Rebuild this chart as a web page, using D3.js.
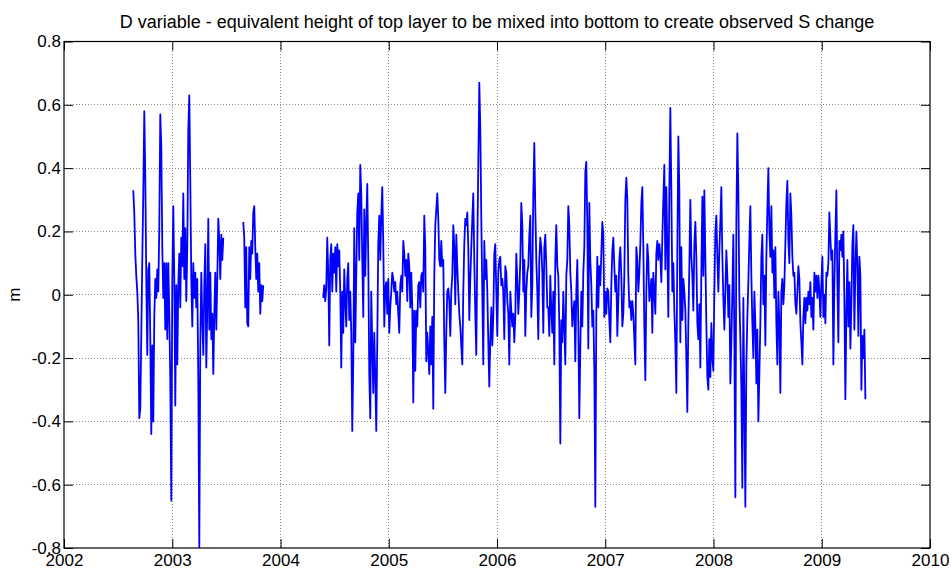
<!DOCTYPE html>
<html>
<head>
<meta charset="utf-8">
<script src="https://cdn.jsdelivr.net/npm/d3@7"></script>
<style>
  body { margin: 0; background: #fff; }
  svg text { font-family: "Liberation Sans", Arial, sans-serif; fill: #000; }
</style>
</head>
<body>
<div class="chart"></div>
<script>
// axis ticks
let xTicks = [2002, 2003, 2004, 2005, 2006, 2007, 2008, 2009, 2010]
let yTicks = [-0.8, -0.6, -0.4, -0.2, 0, 0.2, 0.4, 0.6, 0.8]
let yTickLabels = ["-0.8", "-0.6", "-0.4", "-0.2", "0", "0.2", "0.4", "0.6", "0.8"]

// three runs of samples, each with its start (decimal year), ~3.4 days apart
let segStarts = [2002.640, 2003.656, 2004.395]
let sampleStep = 0.00924

let seg1Values = [
    0.33, 0.26, 0.13, 0.06, 0.01, -0.08, -0.39, -0.36, -0.13, 0.11,
    0.32, 0.58, 0.38, 0.05, -0.19, 0.08, 0.10, -0.14, -0.44, -0.16,
    -0.40, -0.07, 0.05, -0.01, 0.08, 0.01, 0.21, 0.57, 0.47, 0.15,
    -0.01, 0.10, -0.11, 0.10, -0.14, 0.10, -0.06, -0.27, -0.65, 0.05,
    0.28, 0.05, -0.35, 0.03, -0.22, 0.03, 0.13, -0.04, 0.18, 0.09,
    0.32, 0.05, 0.21, -0.02, 0.15, 0.52, 0.63, 0.36, 0.05, -0.10,
    0.10, -0.01, 0.07, -0.04, 0.05, -0.27, -0.80, -0.16, 0.07, -0.08,
    -0.19, 0.03, 0.16, -0.23, -0.04, 0.24, -0.11, 0.07, -0.14, -0.06,
    -0.25, -0.06, 0.07, -0.11, 0.05, 0.24, 0.17, 0.05, 0.19, 0.11,
    0.18
]

let seg2Values = [
    0.23, 0.18, -0.04, 0.15, -0.09, -0.10, 0.15, 0.05, 0.17, 0.13,
    0.26, 0.28, 0.15, 0.05, 0.13, 0.01, 0.10, -0.06, 0.03, -0.02,
    0.03
]

let seg3Values = [
    // 2004.4 - 2005.9
    -0.01, 0.03, -0.02, 0.02, 0.18, 0.07, -0.16, 0.11, 0.16, 0.01,
    0.13, 0.07, 0.15, 0.01, 0.16, 0.09, 0.14, 0.01, -0.23, 0.01,
    -0.12, 0.08, -0.02, -0.10, 0.05, 0.10, -0.08, 0.01, -0.12, -0.43,
    -0.21, 0.21, -0.15, 0.06, 0.26, 0.32, 0.11, 0.41, 0.32, 0.11,
    -0.07, 0.27, 0.06, 0.23, 0.35, 0.11, -0.25, -0.39, 0.01, -0.16,
    -0.31, -0.12, -0.26, -0.43, -0.15, 0.16, 0.25, 0.11, 0.25, 0.34,
    0.16, -0.10, 0.02, 0.04, -0.06, 0.05, -0.12, -0.04, 0.01, 0.07,
    0.05, 0.01, 0.04, -0.03, 0.01, -0.06, -0.12, 0.03, 0.06, 0.01,
    0.17, 0.13, 0.06, 0.11, -0.02, 0.13, 0.09, -0.04, 0.07, -0.04,
    -0.34, -0.05, -0.24, -0.05, -0.10, 0.03, 0.04, -0.04, 0.06, 0.07,
    0.01, 0.25, 0.15, -0.21, -0.12, -0.18, -0.25, -0.10, -0.22, -0.07,
    -0.36, 0.06, 0.22, 0.27, 0.32, 0.24, 0.11, 0.09, 0.17, 0.09,
    0.11, -0.15, -0.31, -0.12, 0.01, 0.02, -0.02, -0.13, 0.01, 0.06,
    0.22, 0.15, -0.03, 0.19, 0.09, 0.01, -0.06, -0.10, -0.16, -0.22,
    0.01, 0.16, 0.24, 0.22, 0.26, 0.15, -0.08, 0.05, 0.15, 0.24,
    0.32, 0.11, -0.06, -0.19, 0.15, 0.41, 0.67, 0.53, 0.24, 0.01,
    -0.22, 0.17, 0.05, 0.11, 0.01, -0.15, -0.29,
    // 2006 - 2007.5
    -0.14, -0.04, -0.16, -0.07, 0.13, 0.16, 0.01, -0.13, 0.07, 0.11,
    0.12, 0.03, 0.05, 0.01, -0.14, 0.09, 0.07, -0.02, -0.06, -0.22,
    0.01, -0.05, -0.10, -0.06, -0.15, -0.07, 0.13, 0.05, -0.06, 0.01,
    0.11, 0.29, 0.22, 0.01, 0.11, -0.13, 0.01, 0.07, 0.09, 0.19,
    0.25, -0.07, 0.03, 0.32, 0.48, 0.27, 0.11, 0.01, -0.14, 0.11,
    0.18, 0.15, 0.07, -0.12, 0.15, 0.19, 0.09, -0.04, -0.04, -0.13,
    0.06, -0.05, -0.12, 0.01, -0.22, 0.11, 0.22, 0.09, 0.06, -0.10,
    -0.47, -0.08, -0.15, 0.01, -0.10, -0.22, 0.06, 0.11, 0.28, 0.22,
    0.07, 0.01, -0.10, -0.05, -0.02, -0.21, 0.01, 0.11, -0.10, -0.39,
    -0.17, 0.01, -0.10, 0.07, 0.15, 0.39, 0.42, 0.22, -0.17, 0.29,
    0.11, 0.03, -0.10, -0.05, -0.24, -0.67, -0.06, 0.12, -0.04, 0.09,
    0.03, 0.13, 0.23, 0.19, -0.07, 0.01, -0.06, 0.02, 0.01, -0.08,
    -0.15, 0.03, 0.14, 0.18, 0.09, 0.01, 0.06, -0.13, -0.02, 0.11,
    0.15, 0.06, -0.10, -0.06, 0.06, 0.30, 0.37, 0.30, 0.06, -0.04,
    -0.02, -0.08, -0.02, -0.06, -0.14, -0.22, 0.15, 0.11, 0.01, 0.07,
    0.16, 0.29, 0.34, 0.15, -0.10, -0.27, 0.01, 0.16, 0.11, -0.02,
    0.01, 0.05, -0.12, 0.07, 0.01, -0.06, 0.13, 0.17, 0.11, 0.16,
    // 2007.5 - 2009
    0.12, 0.04, 0.18, 0.30, 0.41, 0.08, 0.34, 0.15, -0.07, 0.33,
    0.59, 0.33, 0.01, 0.10, -0.05, -0.15, -0.31, 0.14, 0.50, 0.33,
    -0.15, 0.15, -0.08, 0.05, 0.01, -0.05, -0.20, -0.37, -0.09, 0.09,
    0.30, 0.12, 0.06, -0.05, 0.16, 0.23, 0.12, -0.09, -0.14, -0.03,
    -0.23, 0.07, 0.31, 0.06, 0.33, 0.12, -0.09, -0.26, -0.30, -0.14,
    -0.26, -0.09, -0.20, -0.24, 0.01, 0.20, 0.25, 0.12, 0.01, 0.14,
    0.23, 0.34, 0.12, -0.01, -0.11, 0.01, 0.14, 0.06, -0.07, 0.03,
    -0.28, -0.15, 0.01, 0.19, -0.14, -0.64, 0.23, 0.51, 0.33, -0.01,
    -0.14, -0.30, -0.61, -0.01, -0.35, -0.67, -0.22, -0.07, 0.04, 0.17,
    0.28, 0.06, -0.09, -0.20, 0.01, -0.09, -0.28, -0.11, -0.40, -0.25,
    -0.09, 0.12, 0.19, -0.03, 0.06, -0.16, 0.12, 0.27, 0.40, 0.20,
    0.12, 0.28, 0.07, 0.14, -0.01, 0.15, -0.09, -0.22, 0.01, -0.09,
    -0.31, 0.01, 0.05, -0.03, 0.03, 0.16, 0.29, 0.36, 0.17, 0.10,
    0.32, 0.25, 0.12, 0.06, 0.07, -0.03, -0.06, 0.01, 0.09, 0.05,
    -0.09, -0.15, -0.22, -0.07, -0.01, -0.09, -0.01, -0.05, 0.01, -0.03,
    0.04, -0.07, -0.01, -0.11, 0.07, 0.01, 0.06, -0.01, 0.06, 0.01,
    // 2009 - 2009.4
    -0.07, 0.04, 0.12, -0.07, 0.00, -0.09, 0.07, 0.06, 0.10, 0.26,
    0.18, 0.11, 0.14, -0.22, 0.04, 0.19, 0.33, 0.04, -0.15, 0.17,
    0.14, 0.19, 0.12, 0.20, -0.02, -0.33, -0.05, 0.11, -0.10, 0.04,
    -0.17, -0.03, 0.16, 0.22, -0.11, 0.08, 0.20, 0.09, -0.13, 0.12,
    0.06, -0.30, -0.13, -0.20, -0.11, -0.33
]

let titleText = "D variable - equivalent height of top layer to be mixed into bottom to create observed S change"

let width = 951, height = 569
let margin = { left: 64, right: 21, top: 41.5, bottom: 21 }
let tickLen = 9

let svg = d3.select(".chart")
    .append("svg")
    .attr("width", width)
    .attr("height", height)

let x = d3.scaleLinear()
    .domain([2002, 2010])
    .range([margin.left, width - margin.right])
let y = d3.scaleLinear()
    .domain([-0.8, 0.8])
    .range([height - margin.bottom, margin.top])

let plotL = x.range()[0], plotR = x.range()[1]
let plotT = y.range()[1], plotB = y.range()[0]

svg.append("clipPath")
    .attr("id", "plot-clip")
    .append("rect")
    .attr("x", plotL).attr("y", plotT)
    .attr("width", plotR - plotL).attr("height", plotB - plotT)

// dotted grid
let grid = svg.append("g").attr("class", "grid")
grid.selectAll(".gx")
    .data(xTicks.slice(1, -1))
    .enter()
    .append("line")
    .attr("x1", d => x(d)).attr("x2", d => x(d))
    .attr("y1", plotT).attr("y2", plotB)
grid.selectAll(".gy")
    .data(yTicks.slice(1, -1))
    .enter()
    .append("line")
    .attr("y1", d => y(d)).attr("y2", d => y(d))
    .attr("x1", plotL).attr("x2", plotR)
grid.selectAll("line")
    .attr("stroke", "#8c8c8c")
    .attr("stroke-width", 1)
    .attr("stroke-dasharray", "1 2")
    .attr("shape-rendering", "crispEdges")

// data lines, one path per run
let segments = [seg1Values, seg2Values, seg3Values].map((vals, k) =>
    vals.map((v, i) => ({ t: segStarts[k] + i * sampleStep, v: v })))

let line = d3.line()
    .x(d => x(d.t))
    .y(d => y(d.v))

svg.append("g")
    .attr("clip-path", "url(#plot-clip)")
    .selectAll("path")
    .data(segments)
    .enter()
    .append("path")
    .attr("d", line)
    .attr("fill", "none")
    .attr("stroke", "#0000ff")
    .attr("stroke-width", 1.8)
    .attr("stroke-linejoin", "round")

// axes, ticks pointing inward on all four sides
let xAxisB = d3.axisBottom(x).tickValues(xTicks).tickSize(-tickLen).tickPadding(6).tickFormat(d3.format("d"))
let xAxisT = d3.axisTop(x).tickValues(xTicks).tickSize(-tickLen).tickFormat("")
let yAxisL = d3.axisLeft(y).tickValues(yTicks).tickSize(-tickLen).tickPadding(3)
    .tickFormat((d, i) => yTickLabels[i])
let yAxisR = d3.axisRight(y).tickValues(yTicks).tickSize(-tickLen).tickFormat("")

let axes = [
    svg.append("g").attr("transform", `translate(0,${plotB})`).call(xAxisB),
    svg.append("g").attr("transform", `translate(0,${plotT})`).call(xAxisT),
    svg.append("g").attr("transform", `translate(${plotL},0)`).call(yAxisL),
    svg.append("g").attr("transform", `translate(${plotR},0)`).call(yAxisR)
]
axes.forEach(g => {
    g.select(".domain").remove()
    g.selectAll("line").attr("stroke", "#000").attr("stroke-width", 1)
    g.selectAll("text").attr("font-size", 17).attr("fill", "#000")
})

// box
svg.append("rect")
    .attr("x", plotL).attr("y", plotT)
    .attr("width", plotR - plotL).attr("height", plotB - plotT)
    .attr("fill", "none")
    .attr("stroke", "#000")
    .attr("stroke-width", 1.2)

// title and y label
svg.append("text")
    .attr("x", (plotL + plotR) / 2)
    .attr("y", 28)
    .attr("text-anchor", "middle")
    .attr("font-size", 18)
    .text(titleText)

svg.append("text")
    .attr("transform", `translate(20,${y(0)}) rotate(-90)`)
    .attr("text-anchor", "middle")
    .attr("font-size", 17)
    .text("m")
</script>
</body>
</html>
